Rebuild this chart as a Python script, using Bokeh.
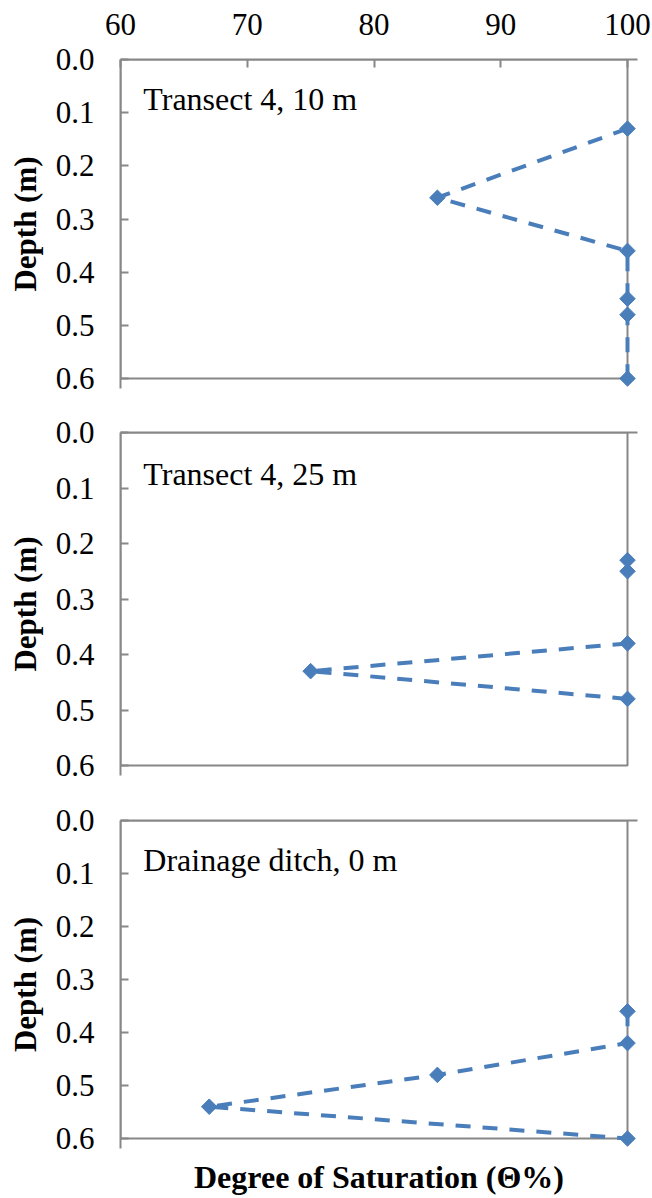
import numpy as np
from bokeh.plotting import figure
from bokeh.layouts import column
from bokeh.models import Range1d, FixedTicker, LinearAxis, Label, ColumnDataSource
from bokeh.embed import file_html
from bokeh.resources import INLINE

# Degree of saturation (%) against depth (m) at three profile locations
titles = ["Transect 4, 10 m", "Transect 4, 25 m", "Drainage ditch, 0 m"]

depth_10 = [0.13, 0.26, 0.36, 0.45, 0.48, 0.60]
sat_10 = [100, 85, 100, 100, 100, 100]
linked_10 = [1, 1, 1, 1, 1, 1]

depth_25 = [0.23, 0.25, 0.38, 0.43, 0.48]
sat_25 = [100, 100, 100, 75, 100]
linked_25 = [0, 0, 1, 1, 1]  # readings without a connecting line

depth_0 = [0.36, 0.42, 0.48, 0.54, 0.60]
sat_0 = [100, 100, 85, 67, 100]
linked_0 = [1, 1, 1, 1, 1]

x_ticks = [60, 70, 80, 90, 100]
y_ticks = [0.0, 0.1, 0.2, 0.3, 0.4, 0.5, 0.6]
y_labels = ["0.0", "0.1", "0.2", "0.3", "0.4", "0.5", "0.6"]

FONT = "Liberation Serif"
BLUE = "#4A7EBB"
GREY = "#878787"

panels = [
    (depth_10, sat_10, linked_10),
    (depth_25, sat_25, linked_25),
    (depth_0, sat_0, linked_0),
]
# figure height, top border, box height for each panel
geom = [(400, 59, 319), (390, 32, 333), (408, 30, 318)]
BOX_W = 507      # box width in px
LEFT = 120       # left border in px
PAD = 10         # room right/below the box so edge markers are not cut

x0, x1 = x_ticks[0], x_ticks[-1]
y0, y1 = y_ticks[0], y_ticks[-1]


def style_text_axis(ax, size):
    ax.major_label_text_font = FONT
    ax.major_label_text_font_size = size
    ax.major_label_text_color = "black"
    ax.axis_label_text_font = FONT
    ax.axis_label_text_font_style = "bold"
    ax.axis_label_text_color = "black"
    ax.minor_tick_in = 0
    ax.minor_tick_out = 0
    ax.major_tick_out = 0
    ax.major_tick_line_color = GREY
    ax.major_tick_line_width = 2
    ax.axis_line_color = GREY
    ax.axis_line_width = 2


figs = []
for i, ((d, s, link), (h, bt, bh)) in enumerate(zip(panels, geom)):
    xpad = (x1 - x0) * PAD / BOX_W
    ypad = (y1 - y0) * PAD / bh
    p = figure(
        width=652, height=h,
        x_range=Range1d(x0, x1 + xpad), y_range=Range1d(y1 + ypad, y0),
        x_axis_location="above",
        output_backend="svg", toolbar_location=None,
        min_border_left=LEFT, min_border_right=652 - LEFT - BOX_W - PAD,
        min_border_top=bt, min_border_bottom=h - bt - bh - PAD,
    )
    p.grid.visible = False
    p.outline_line_color = None
    p.background_fill_color = "white"
    p.border_fill_color = "white"

    ya = p.yaxis[0]
    style_text_axis(ya, "31px")
    ya.ticker = FixedTicker(ticks=y_ticks)
    ya.major_label_overrides = {t: l for t, l in zip(y_ticks, y_labels)}
    ya.axis_label = "Depth (m)"
    ya.axis_label_text_font_size = "31px"
    ya.axis_label_standoff = 10
    ya.major_label_standoff = 26
    ya.major_tick_in = 8

    xa = p.xaxis[0]
    style_text_axis(xa, "31px")
    if i == 0:
        xa.ticker = FixedTicker(ticks=x_ticks)
        xa.major_label_standoff = 25
        xa.major_tick_in = 8
    else:
        xa.ticker = FixedTicker(ticks=[])
        xa.major_label_standoff = 0
        xa.major_tick_in = 0

    if i == 2:
        xb = LinearAxis(ticker=FixedTicker(ticks=[]))
        style_text_axis(xb, "31px")
        xb.axis_label = "Degree of Saturation (\u0398%)"
        xb.axis_label_text_font_size = "32px"
        xb.axis_label_standoff = 10
        xb.major_label_standoff = 0
        xb.major_tick_in = 0
        xb.axis_line_color = None
        p.add_layout(xb, "below")

    # plot box (right and bottom edges sit inside the padded frame)
    p.quad(left=x0, right=x1, top=y0, bottom=y1, fill_color=None,
           line_color=GREY, line_width=2)

    line_x = np.where(np.array(link) == 1, np.array(s, dtype=float), np.nan)
    src = ColumnDataSource(dict(depth=d, sat=s, line_sat=line_x))
    p.line("line_sat", "depth", source=src, line_color=BLUE,
           line_width=4, line_dash="15 12")
    p.scatter("sat", "depth", source=src, marker="square", angle=np.pi / 4,
              size=11, fill_color=BLUE, line_color=BLUE)

    p.add_layout(Label(x=61.8, y=0.075, text=titles[i],
                       text_font=FONT, text_font_size="32px",
                       text_color="black", text_baseline="alphabetic"))
    figs.append(p)

layout = column(*figs, spacing=0)
open("out.html", "w").write(file_html(layout, INLINE))
